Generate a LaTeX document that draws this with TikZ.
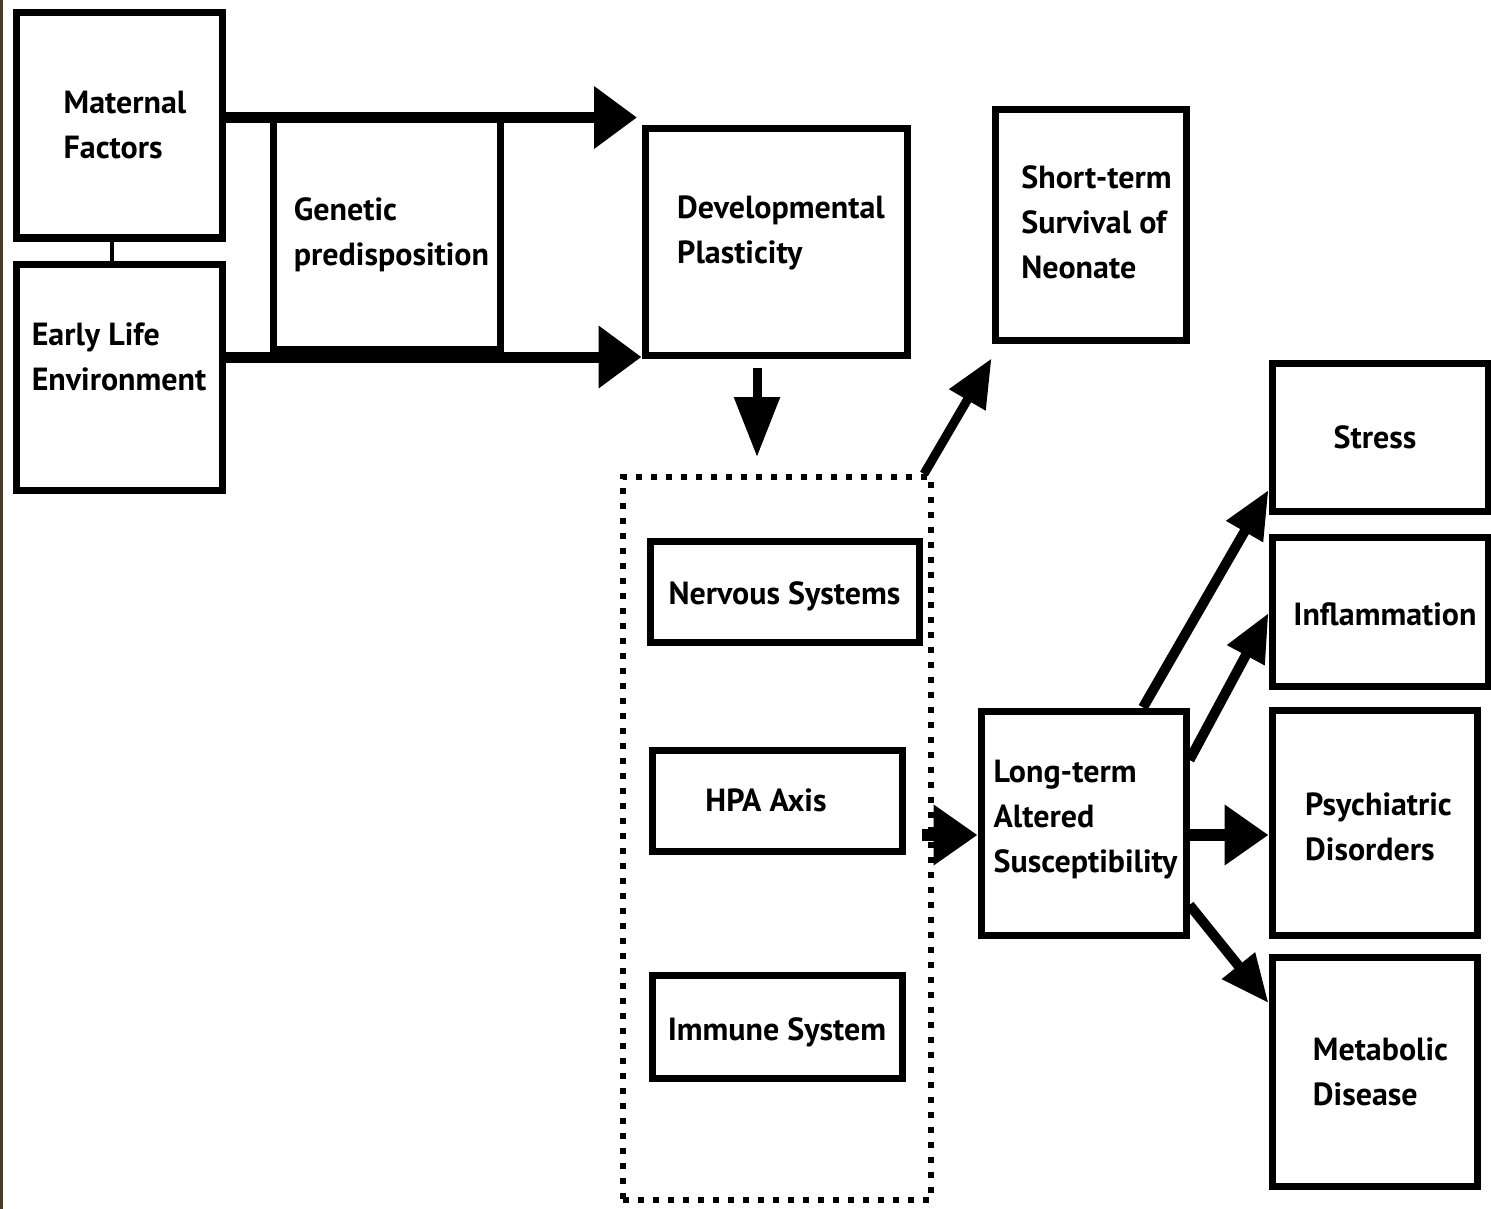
\documentclass[tikz,border=0pt]{standalone}
\usepackage{fontspec}
\setmainfont{PT Sans}
\usetikzlibrary{arrows.meta}
\definecolor{frameedge}{HTML}{4A3B22}
\begin{document}
\begin{tikzpicture}[x=1pt,y=1pt,
  box/.style={draw, line width=7pt, inner sep=0pt},
  txt/.style={align=left, inner sep=0pt, font=\fontsize{32}{45}\selectfont\bfseries},
  dotbox/.style={draw, line width=6pt, dash pattern=on 6pt off 9pt, inner sep=0pt},
  arr/.style={line width=11pt, -{Triangle[length=43pt,width=60pt]}},
  arrdown/.style={line width=9pt, -{Triangle[length=60pt,width=44pt]}},
  arrdiag/.style={line width=9pt, -{Triangle[length=48pt,width=40pt]}},
  arrside/.style={line width=12pt, -{Triangle[length=44pt,width=58pt]}},
  link/.style={line width=4pt}]
\useasboundingbox (0,0) rectangle (1491,-1209);
\fill[white] (0,0) rectangle (1491,-1209);
\draw[frameedge, line width=2.5pt] (1.5,0) -- (1.5,-1209);

% input factors
\node[box, minimum width=206pt, minimum height=225pt,
  label={[txt, xshift=6pt]center:Maternal\\Factors}] (mat) at (119,-125.5) {};
\node[box, minimum width=206pt, minimum height=226pt,
  label={[txt, yshift=20pt]center:Early Life\\Environment}] (early) at (119,-377) {};
\node[box, minimum width=227pt, minimum height=232pt,
  label={[txt, xshift=5pt, yshift=-1pt]center:Genetic\\predisposition}] (gen) at (386.5,-233.5) {};

% plasticity and short-term outcome
\node[box, minimum width=262pt, minimum height=226pt,
  label={[txt, xshift=5pt, yshift=9pt]center:Developmental\\Plasticity}] (dev) at (776,-242) {};
\node[box, minimum width=191pt, minimum height=230pt,
  label={[txt, xshift=6pt, yshift=3pt]center:Short-term\\Survival of\\Neonate}] (st) at (1090.5,-225) {};

% affected systems
\node[dotbox, minimum width=308pt, minimum height=723pt] (sys) at (777,-838.5) {};
\node[box, minimum width=269pt, minimum height=101pt,
  label={[txt, yshift=-5pt]center:Nervous Systems}] (nerv) at (784.5,-591.5) {};
\node[box, minimum width=250pt, minimum height=101pt,
  label={[txt, xshift=-11pt]center:HPA Axis}] (hpa) at (777,-800.5) {};
\node[box, minimum width=250pt, minimum height=103pt,
  label={[txt, yshift=-6pt]center:Immune System}] (imm) at (777,-1026.5) {};

% long-term outcomes
\node[box, minimum width=205pt, minimum height=224pt,
  label={[txt, xshift=2pt, yshift=3pt]center:Long-term\\Altered\\Susceptibility}] (lt) at (1083.5,-823) {};
\node[box, minimum width=216pt, minimum height=148pt,
  label={[txt, xshift=-5pt]center:Stress}] (stress) at (1380,-437) {};
\node[box, minimum width=216pt, minimum height=149pt,
  label={[txt, xshift=5pt, yshift=-3pt]center:Inflammation}] (infl) at (1380,-611.5) {};
\node[box, minimum width=205pt, minimum height=225pt,
  label={[txt, xshift=4pt, yshift=-4pt]center:Psychiatric\\Disorders}] (psy) at (1374.5,-822.5) {};
\node[box, minimum width=205pt, minimum height=229pt,
  label={[txt, xshift=6pt]center:Metabolic\\Disease}] (met) at (1374.5,-1071.5) {};

\coordinate (topend) at (637,-117.5);

% connectors
\draw[link] (mat.south -| 112,0) -- (early.north -| 112,0);
\draw[arr] (mat.east |- 0,-117.5) -- (topend);
\draw[arr] (early.east |- 0,-357) -- (dev.west |- 0,-357);
\draw[arrdown, shorten <=9.5pt, shorten >=17pt] (dev.south -| 757,0) -- (sys.north -| 757,0);
\draw[arrdiag] ([xshift=-10pt]sys.north east) -- ([yshift=-15pt]st.south west);
\draw[arrside, shorten <=16pt] (hpa.east |- 0,-835) -- (lt.west |- 0,-835);
\draw[arrdiag, line width=10pt] (lt.north -| 1143,0) -- (stress.west |- 0,-490);
\draw[arrdiag, line width=10pt] (lt.east |- 0,-760) -- (infl.west |- 0,-613);
\draw[arrside] (lt.east |- 0,-835) -- (psy.west |- 0,-835);
\draw[arrdiag, line width=10pt] (lt.east |- 0,-905) -- (met.west |- 0,-1003);
\end{tikzpicture}
\end{document}
